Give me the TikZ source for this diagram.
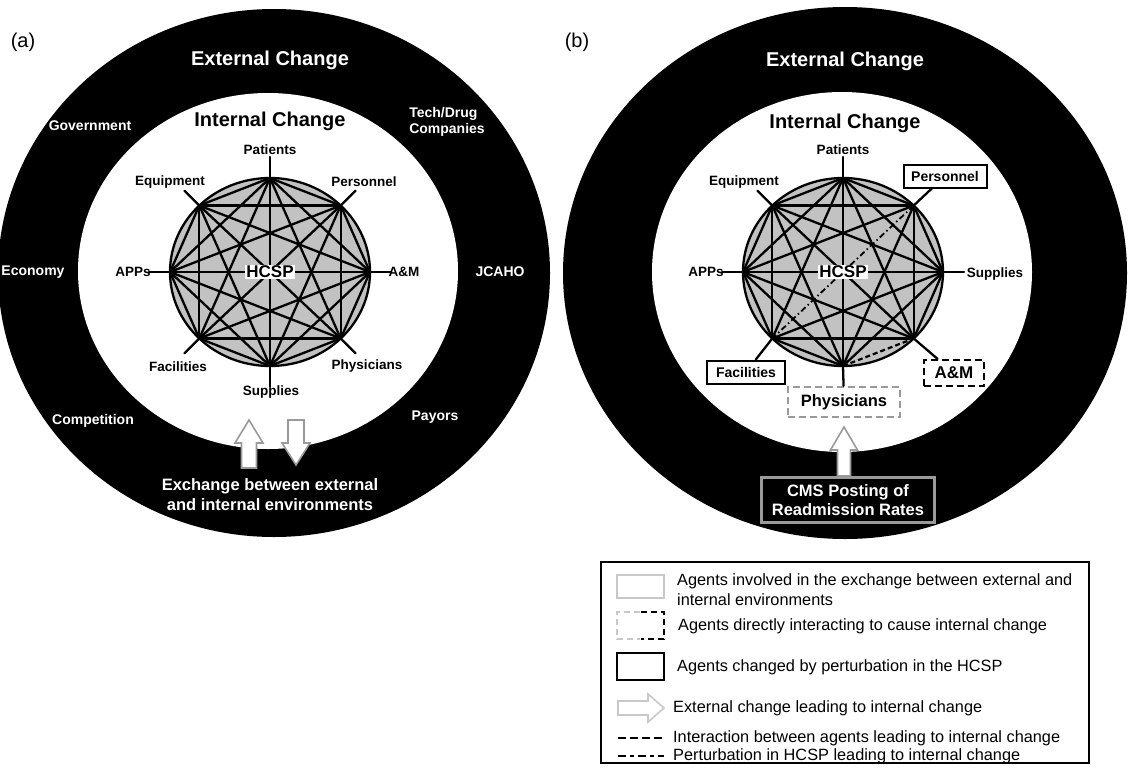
\documentclass[tikz,border=0pt]{standalone}
\usepackage{fontspec}
\setmainfont{Liberation Sans}
\usetikzlibrary{calc}
\definecolor{hgray}{HTML}{C2C2C2}
\definecolor{agray}{HTML}{9A9A9A}
\definecolor{lgray}{HTML}{C8C8C8}
\begin{document}
\begin{tikzpicture}[x=1pt,y=-1pt,
  edge/.style={line width=2.3pt,line cap=round},
  ringlbl/.style={text=white,font=\fontsize{14}{15.5}\selectfont\bfseries,inner sep=1pt},
  agent/.style={font=\fontsize{13.5}{15}\selectfont\bfseries,inner sep=1pt},
  titlew/.style={text=white,font=\fontsize{20}{22}\selectfont\bfseries},
  titleb/.style={font=\fontsize{20}{22}\selectfont\bfseries},
  plabel/.style={font=\fontsize{20}{22}\selectfont},
  hcsp/.style={fill=white,inner sep=1pt,font=\fontsize{17}{19}\selectfont\bfseries},
  bigarrow/.style={draw=agray,fill=white,line width=1.6pt,line join=miter},
  solidbox/.style={draw=black,line width=2pt,fill=white,font=\fontsize{14}{16}\selectfont\bfseries,inner sep=0pt,minimum height=23pt},
  dashbox/.style={draw=black,line width=2.2pt,dash pattern=on 7pt off 4pt,fill=white,font=\fontsize{17}{19}\selectfont\bfseries,inner sep=0pt},
  graybox/.style={draw=agray,line width=2.2pt,dash pattern=on 7pt off 4pt,fill=white,font=\fontsize{16.5}{19}\selectfont\bfseries,inner sep=0pt,minimum width=112pt,minimum height=30pt},
  cmsbox/.style={fill=black,draw=agray,line width=2.5pt,text=white,font=\fontsize{16.5}{19.5}\selectfont\bfseries,align=center,inner sep=0pt,minimum width=173pt,minimum height=45pt},
  legtext/.style={anchor=west,font=\fontsize{16.3}{20}\selectfont,inner sep=0pt,align=left},
  dashedge/.style={line width=2.2pt,dash pattern=on 5pt off 3pt},
  ddotedge/.style={line width=1.8pt,dash pattern=on 6pt off 3pt on 1.5pt off 3pt}
]
\useasboundingbox (0,0) rectangle (1128,769);
\fill[white] (0,0) rectangle (1128,769);

%================ (a) =================
\fill[black] (274,273) ellipse [x radius=276pt, y radius=264pt];
\fill[white] (268,271) ellipse [x radius=190pt, y radius=178pt];
\filldraw[fill=hgray,draw=black,line width=2.3pt] (270,272) ellipse [x radius=100pt, y radius=94pt];
\foreach \k in {0,...,7}{
  \coordinate (a\k) at ({270+100*cos(90-45*\k)},{272-94*sin(90-45*\k)});
  \coordinate (as\k) at ({270+121*cos(90-45*\k)},{272-115*sin(90-45*\k)});
}
\foreach \k in {0,...,7}{\draw[edge] (a\k) -- (as\k);}
\foreach \i in {0,...,6}{
  \pgfmathtruncatemacro{\jfirst}{\i+1}
  \foreach \j in {\jfirst,...,7}{\draw[edge] (a\i) -- (a\j);}
}
\node[hcsp] (hcspA) at (270,272) {HCSP};

\node[plabel] (labA) at (23,42) {(a)};
\node[titlew] (extA) at (270,60) {External Change};
\node[titleb] (intA) at (270,121) {Internal Change};
\node[ringlbl] (govA) at (90,126) {Government};
\node[ringlbl,align=left] (techA) at (447,122) {Tech/Drug\\Companies};
\node[ringlbl] (econA) at (33,272) {Economy};
\node[ringlbl] (jcahoA) at (500,272) {JCAHO};
\node[ringlbl] (compA) at (93,421) {Competition};
\node[ringlbl] (payA) at (435,417) {Payors};

\node[agent] (patA) at (270,150) {Patients};
\node[agent] (equA) at (170,182) {Equipment};
\node[agent] (perA) at (364,182) {Personnel};
\node[agent] (appA) at (133,272) {APPs};
\node[agent] (amA) at (404,272) {A\&M};
\node[agent] (facA) at (178,367) {Facilities};
\node[agent] (phyA) at (367,366) {Physicians};
\node[agent] (supA) at (271,392) {Supplies};

\draw[bigarrow] (241.5,468) -- (241.5,443) -- (235,443) -- (249,420) -- (263,443) -- (256.5,443) -- (256.5,468) -- cycle;
\draw[bigarrow] (288,420) -- (304,420) -- (304,443) -- (310,443) -- (296,465) -- (282,443) -- (288,443) -- cycle;
\node[text=white,font=\fontsize{16.5}{20}\selectfont\bfseries,align=center] (exA) at (270,495) {Exchange between external\\and internal environments};

%================ (b) =================
\fill[black] (845,273) ellipse [x radius=282pt, y radius=266pt];
\fill[white] (842,272) ellipse [x radius=190pt, y radius=180pt];
\filldraw[fill=hgray,draw=black,line width=2.3pt] (843,272) ellipse [x radius=100pt, y radius=94pt];
\foreach \k in {0,...,7}{
  \coordinate (b\k) at ({843+100*cos(90-45*\k)},{272-94*sin(90-45*\k)});
  \coordinate (bs\k) at ({843+121*cos(90-45*\k)},{272-115*sin(90-45*\k)});
}
\foreach \k in {0,2,6,7}{\draw[edge] (b\k) -- (bs\k);}
\foreach \i in {0,...,6}{
  \pgfmathtruncatemacro{\jfirst}{\i+1}
  \foreach \j in {\jfirst,...,7}{
    \pgfmathtruncatemacro{\paircode}{10*\i+\j}
    \ifnum\paircode=15 \else\ifnum\paircode=34 \else
      \draw[edge] (b\i) -- (b\j);
    \fi\fi
  }
}
\draw[ddotedge] (b1) -- (b5);
\draw[dashedge] (b4) -- (b3);
\node[hcsp] (hcspB) at (843,272) {HCSP};

\node[solidbox,minimum width=83pt] (perB) at (945,176) {Personnel};
\node[solidbox,minimum width=78pt] (facB) at (746,372) {Facilities};
\node[dashbox,minimum width=60pt,minimum height=26pt] (amB) at (954,373) {A\&M};
\node[graybox] (phyB) at (844,402) {Physicians};
\draw[edge] (b1) -- (perB);
\draw[edge] (b5) -- (facB);
\draw[edge] (b3) -- (amB);
\draw[edge] (b4) -- (phyB);

\node[plabel] (labB) at (577,42) {(b)};
\node[titlew] (extB) at (845,61) {External Change};
\node[titleb] (intB) at (845,123) {Internal Change};
\node[agent] (patB) at (843,150) {Patients};
\node[agent] (equB) at (744,182) {Equipment};
\node[agent] (appB) at (706,272) {APPs};
\node[agent] (supB) at (995,274) {Supplies};

\draw[bigarrow] (837.5,476) -- (837.5,450) -- (830.5,450) -- (844,427) -- (857.5,450) -- (850.5,450) -- (850.5,476) -- cycle;
\node[cmsbox] (cmsB) at (848,500) {CMS Posting of\\Readmission Rates};

%================ legend =================
\draw[line width=1.5pt] (601,562) rectangle (1089,763);
\draw[lgray,line width=2pt] (617,575) rectangle (664,598);
\node[legtext] (lg1) at (677,590) {Agents involved in the exchange between external and\\internal environments};
\draw[lgray,line width=2pt,dash pattern=on 6pt off 4pt] (640,612) -- (617,612) -- (617,639) -- (640,639);
\draw[black,line width=2pt,dash pattern=on 6pt off 4pt] (641,612) -- (664,612) -- (664,639) -- (641,639);
\node[legtext] (lg2) at (678,626) {Agents directly interacting to cause internal change};
\draw[black,line width=2pt] (617,653) rectangle (664,680);
\node[legtext] (lg3) at (677,667) {Agents changed by perturbation in the HCSP};
\draw[draw=lgray,fill=white,line width=1.6pt,line join=miter] (618,701) -- (648,701) -- (648,694) -- (664,708) -- (648,722) -- (648,715) -- (618,715) -- cycle;
\node[legtext] (lg4) at (673,708) {External change leading to internal change};
\coordinate (l5a) at (618,738);
\coordinate (l5b) at (664,738);
\draw[line width=2pt,dash pattern=on 8pt off 4pt] (l5a) -- (l5b);
\node[legtext] (lg5) at (673,738) {Interaction between agents leading to internal change};
\coordinate (l6a) at (618,756);
\coordinate (l6b) at (664,756);
\draw[line width=2pt,dash pattern=on 8pt off 4pt on 4pt off 4pt] (l6a) -- (l6b);
\node[legtext] (lg6) at (673,756) {Perturbation in HCSP leading to internal change};
\end{tikzpicture}
\end{document}
